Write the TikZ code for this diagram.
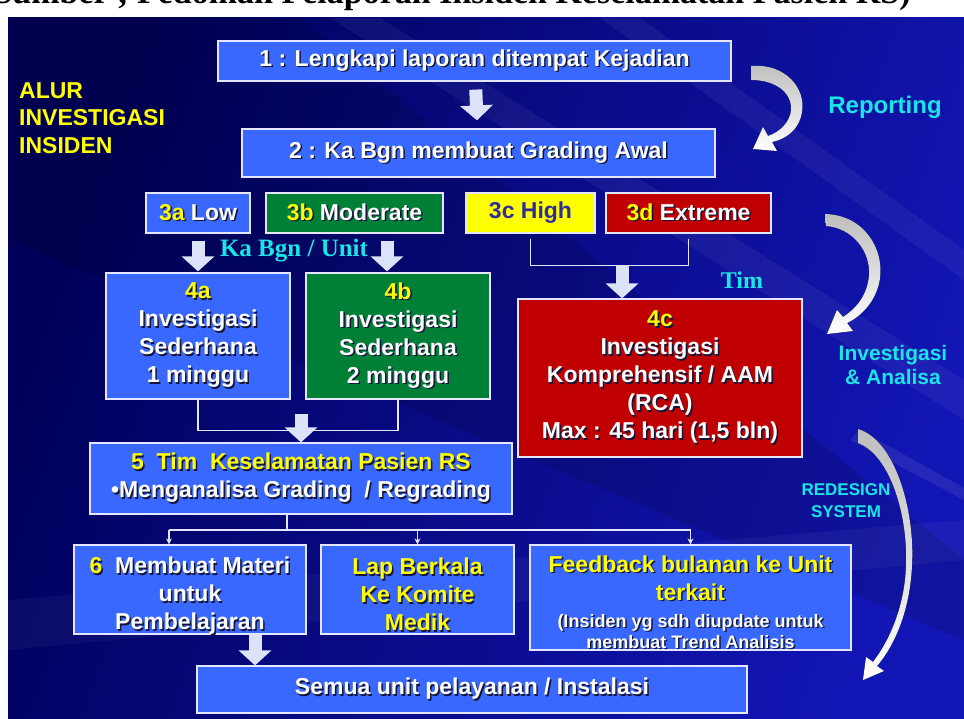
\documentclass[tikz,border=0pt]{standalone}
\usepackage{fontspec}
\setmainfont{Liberation Sans}
\newfontfamily\seriffont{Liberation Serif}
\usetikzlibrary{arrows.meta}

\definecolor{bgl}{HTML}{00005A}
\definecolor{bgr}{HTML}{1216B4}
\definecolor{boxblue}{HTML}{3868FF}
\definecolor{boxgreen}{HTML}{008036}
\definecolor{boxred}{HTML}{C00000}
\definecolor{boxyellow}{HTML}{FFFF00}
\definecolor{boxline}{HTML}{E4E6FF}
\definecolor{txtyellow}{HTML}{FFFF00}
\definecolor{hightxt}{HTML}{2E2E9A}
\definecolor{lblcyan}{HTML}{1AE4E4}
\definecolor{arrowfill}{HTML}{DCE2F8}
\definecolor{swoopgray}{HTML}{BEBEBE}
\definecolor{shadowc}{HTML}{15153A}

\newcommand{\shtxt}[2][white]{\rlap{\kern1.5pt\raisebox{-1.5pt}{\color{shadowc}#2}}{\color{#1}#2}}

\begin{document}
\begin{tikzpicture}[x=1pt, y=-1pt]
  \tikzstyle{every node}=[font=\bfseries\fontsize{23}{28}\selectfont, inner sep=0pt, align=center, text=white]
  \tikzstyle{box}=[draw=boxline, line width=1.2pt, fill=boxblue]
  \tikzstyle{fat}=[draw=arrowfill, line width=13pt, -{Triangle[width=32pt,length=15pt]}]
  \tikzstyle{link}=[draw=boxline, line width=1.3pt]
  \tikzstyle{thinarrow}=[-{Stealth[length=6pt,width=6pt]}]
  \tikzstyle{swoop}=[top color=swoopgray, bottom color=white, draw=none]
  \tikzstyle{side}=[text=lblcyan]

  \useasboundingbox (0,0) rectangle (964,719);
  \fill[white] (0,0) rectangle (964,719);
  \shade[left color=bgl, right color=bgr, shading angle=70] (8,18) rectangle (964,719);
  \begin{scope}
    \clip (8,18) rectangle (964,719);
    \fill[white, opacity=.05] (330,18) -- (380,18) -- (964,380) -- (964,420) -- cycle;
    \fill[white, opacity=.05] (600,18) -- (640,18) -- (964,250) -- (964,280) -- cycle;
    \fill[black, opacity=.12] (8,18) -- (300,18) -- (964,560) -- (964,640) -- (8,240) -- cycle;
    \fill[white, opacity=.08] (860,430) -- (964,488) -- (964,500) -- (850,440) -- cycle;
    \fill[white, opacity=.04] (8,600) -- (964,520) -- (964,560) -- (8,650) -- cycle;
  \end{scope}
  \begin{scope}
    \clip (0,0) rectangle (964,18);
    \node[anchor=base west, text=black, font=\seriffont\bfseries\fontsize{34}{34}\selectfont] (src) at (-18,4) {(Sumber ; Pedoman Pelaporan Insiden Keselamatan Pasien RS)};
  \end{scope}

  \node [box, minimum width=513pt, minimum height=40pt] (lapor) at (474.5, 61) {\shtxt{1 : Lengkapi laporan ditempat Kejadian}};
  \node [box, minimum width=473pt, minimum height=48pt] (grading) at (478.5, 153) {\shtxt{2 : Ka Bgn membuat Grading Awal}};
  \node [box, minimum width=104pt, minimum height=40pt] (low) at (198, 213) {\shtxt[txtyellow]{3a} \shtxt{Low}};
  \node [box, fill=boxgreen, minimum width=177pt, minimum height=40pt] (moderate) at (354.5, 213) {\shtxt[txtyellow]{3b} \shtxt{Moderate}};
  \node [box, fill=boxyellow, text=hightxt, minimum width=129pt, minimum height=40pt] (high) at (530.5, 213) {3c High};
  \node [box, fill=boxred, minimum width=165pt, minimum height=40pt] (extreme) at (688.5, 213) {\shtxt[txtyellow]{3d} \shtxt{Extreme}};
  \node [box, minimum width=184pt, minimum height=126pt] (inv4a) at (198, 336) {\shtxt[txtyellow]{4a}\\ \shtxt{Investigasi}\\ \shtxt{Sederhana}\\ \shtxt{1 minggu}};
  \node [box, fill=boxgreen, minimum width=184pt, minimum height=126pt] (inv4b) at (398, 336) {\shtxt[txtyellow]{4b}\\ \shtxt{Investigasi}\\ \shtxt{Sederhana}\\ \shtxt{2 minggu}};
  \node [box, fill=boxred, minimum width=284pt, minimum height=158pt] (inv4c) at (660, 378) {\shtxt[txtyellow]{4c}\\ \shtxt{Investigasi}\\ \shtxt{Komprehensif / AAM}\\ \shtxt{(RCA)}\\ \shtxt{Max : 45 hari (1,5 bln)}};
  \node [box, minimum width=422pt, minimum height=71pt] (analisa) at (301, 478.5) {\shtxt[txtyellow]{5~ Tim~ Keselamatan Pasien RS}\\ \shtxt{\textbullet Menganalisa Grading~ / Regrading}};
  \node [box, minimum width=232pt, minimum height=89pt] (materi) at (190, 589.5) {};
  \node at ([yshift=-7pt]materi.center) {\shtxt[txtyellow]{6}~ \shtxt{Membuat Materi}\\ \shtxt{untuk}\\ \shtxt{Pembelajaran}};
  \node [box, minimum width=193pt, minimum height=89pt] (lap) at (417.5, 589.5) {};
  \node at ([yshift=-6pt]lap.center) {\shtxt[txtyellow]{Lap Berkala}\\ \shtxt[txtyellow]{Ke Komite}\\ \shtxt[txtyellow]{Medik}};
  \node [box, minimum width=321pt, minimum height=105pt] (feedback) at (690.5, 597.5) {};
  \node [anchor=north] at ([yshift=-11pt]feedback.north) {\shtxt[txtyellow]{Feedback bulanan ke Unit}\\ \shtxt[txtyellow]{terkait}\\[-1pt] \fontsize{18}{20}\selectfont\shtxt{(Insiden yg sdh diupdate untuk}\\[-7pt] \fontsize{18}{20}\selectfont\shtxt{membuat Trend Analisis}};
  \node [box, minimum width=550pt, minimum height=47pt] (semua) at (472, 689.5) {\shtxt{Semua unit pelayanan / Instalasi}};

  \node [anchor=north west, align=left, text=txtyellow, font=\bfseries\fontsize{23}{27.5}\selectfont] (judul) at (19, 82) {ALUR\\ INVESTIGASI\\ INSIDEN};
  \node [side, font=\bfseries\fontsize{24}{28}\selectfont] (reporting) at (885, 107) {Reporting};
  \node [side, font=\bfseries\fontsize{21}{24}\selectfont] (invlabel) at (893, 365) {Investigasi\\ \& Analisa};
  \node [side, font=\bfseries\fontsize{17}{22}\selectfont] (redesign) at (846, 501) {REDESIGN\\ SYSTEM};
  \node [side, font=\seriffont\bfseries\fontsize{25}{28}\selectfont] (kabgn) at (294, 251) {Ka Bgn / Unit};
  \node [side, font=\seriffont\bfseries\fontsize{24}{26}\selectfont] (tim) at (742, 280) {Tim};

  \draw[fat, shorten <=8pt, shorten >=8pt] (lapor) -- (grading);
  \draw[fat, shorten <=7pt, shorten >=1pt] (low) -- (inv4a);
  \draw[fat, shorten <=7pt, shorten >=1pt] ([xshift=-11pt]inv4b.north |- moderate.south) -- ([xshift=-11pt]inv4b.north);
  \draw[link] ([yshift=-5pt]high.south) -- ++(0,27) -| ([yshift=-5pt]extreme.south);
  \coordinate (hc) at (622, 265);
  \draw[fat] (hc) -- (hc |- inv4c.north);
  \draw[link] (inv4a.south) -- ++(0,31) -| (inv4b.south);
  \draw[fat] ([yshift=28pt]analisa.north) -- (analisa.north);
  \coordinate (split) at (287, 530);
  \coordinate (tomateri) at (169, 530);
  \draw[link] (analisa.south -| split) -- (split);
  \draw[link] (tomateri) -- (split -| feedback.north);
  \draw[link, thinarrow] (tomateri) -- (tomateri |- materi.north);
  \draw[link, thinarrow] (split -| lap.north) -- (lap.north);
  \draw[link, thinarrow] (split -| feedback.north) -- (feedback.north);
  \draw[fat] ([xshift=65pt]materi.south) -- ([xshift=65pt]materi.south |- semua.north);

  \fill[swoop] (751,66) .. controls (785,63) and (806,88) .. (802,112) .. controls (799,130) and (786,139) .. (772,142) -- (777,151) -- (753,149) -- (763,127) -- (768,136) .. controls (780,132) and (790,122) .. (791,110) .. controls (792,92) and (775,80) .. (751,80) -- cycle;
  \fill[swoop] (825,214) .. controls (865,215) and (884,250) .. (880,278) .. controls (877,300) and (862,316) .. (847,323) -- (853,331) -- (827,334) -- (837,310) -- (843,317) .. controls (857,308) and (867,295) .. (869,276) .. controls (871,252) and (853,228) .. (826,226) -- cycle;
  \fill[swoop] (858,429) .. controls (895,440) and (915,510) .. (912,565) .. controls (910,610) and (895,645) .. (877,666) -- (884,671) -- (863,680) -- (866,657) -- (873,662) .. controls (890,640) and (905,605) .. (906,565) .. controls (908,515) and (890,455) .. (858,443) -- cycle;
\end{tikzpicture}
\end{document}
